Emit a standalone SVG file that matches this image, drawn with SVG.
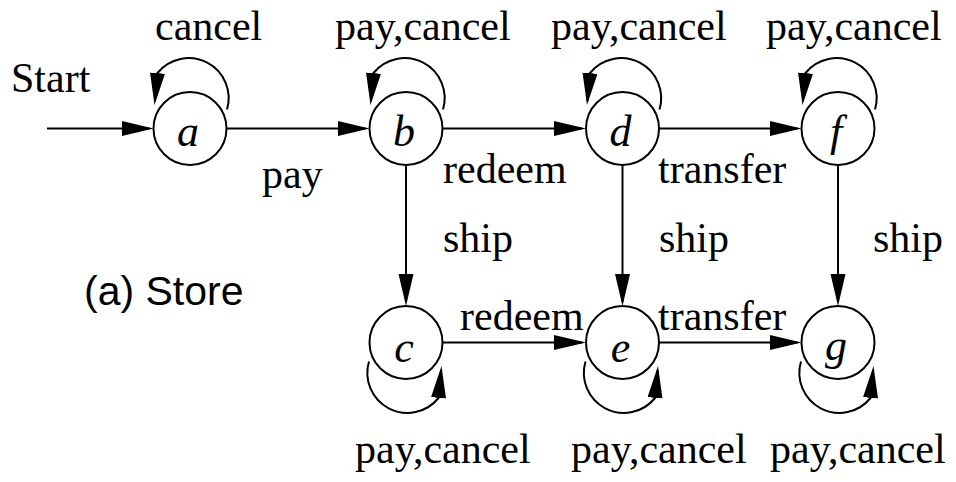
<svg xmlns="http://www.w3.org/2000/svg" width="956" height="482" viewBox="0 0 956 482">
<style>
.n{fill:#fff;stroke:#000;stroke-width:2}
.nl{font-family:"Liberation Serif",serif;font-style:italic;font-size:44px;text-anchor:middle;fill:#000}
.e{fill:none;stroke:#000;stroke-width:2;marker-end:url(#ah)}
.t{font-family:"Liberation Serif",serif;font-size:42px;fill:#000}
.s{font-family:"Liberation Sans",sans-serif;font-size:41px;fill:#000}
</style>
<defs>
<marker id="ah" markerUnits="userSpaceOnUse" viewBox="0 0 34 16" markerWidth="34" markerHeight="16" refX="28" refY="7.5" orient="auto">
<path d="M0,0 L32,7.5 L0,15 z" fill="#000"/>
</marker>
</defs>
<rect width="956" height="482" fill="#fff"/>
<g id="connectors">
<path class="e" d="M47,128.5 H149.5"/>
<path class="e" d="M226.5,128.5 H365.5"/>
<path class="e" d="M442.5,128.5 H582"/>
<path class="e" d="M659,128.5 H797.5"/>
<path class="e" d="M442.5,342.5 H582"/>
<path class="e" d="M659,342.5 H797.5"/>
<path class="e" d="M406,165 V302"/>
<path class="e" d="M622.5,165 V302"/>
<path class="e" d="M838,165 V302"/>
<path class="e" d="M227,109.5 A40,40 0 0 0 157.5,73 L154.9,101"/>
<path class="e" d="M443,109.5 A40,40 0 0 0 373.5,73 L370.9,101"/>
<path class="e" d="M659.5,109.5 A40,40 0 0 0 590,73 L587.4,101"/>
<path class="e" d="M875,109.5 A40,40 0 0 0 805.5,73 L802.9,101"/>
<path class="e" d="M369,361.5 A40,40 0 0 0 438.5,398 L441.1,370"/>
<path class="e" d="M585.5,361.5 A40,40 0 0 0 655,398 L657.6,370"/>
<path class="e" d="M801,361.5 A40,40 0 0 0 870.5,398 L873.1,370"/>
</g>
<g id="labels">
<text class="t" x="155" y="40">cancel</text>
<text class="t" x="335" y="40">pay,cancel</text>
<text class="t" x="551" y="40">pay,cancel</text>
<text class="t" x="766" y="40">pay,cancel</text>
<text class="t" x="11" y="92">Start</text>
<text class="t" x="262" y="188">pay</text>
<text class="t" x="443" y="183">redeem</text>
<text class="t" x="658" y="183">transfer</text>
<text class="t" x="443" y="252">ship</text>
<text class="t" x="659" y="252">ship</text>
<text class="t" x="873" y="252">ship</text>
<text class="s" x="84" y="305">(a) Store</text>
<text class="t" x="460" y="330">redeem</text>
<text class="t" x="658" y="330">transfer</text>
<text class="t" x="355" y="463">pay,cancel</text>
<text class="t" x="571" y="463">pay,cancel</text>
<text class="t" x="770" y="463">pay,cancel</text>
</g>
<g id="node-a"><circle class="n" cx="190" cy="128.5" r="36.5"/><text class="nl" x="188" y="146">a</text></g>
<g id="node-b"><circle class="n" cx="406" cy="128.5" r="36.5"/><text class="nl" x="404" y="146">b</text></g>
<g id="node-d"><circle class="n" cx="622.5" cy="128.5" r="36.5"/><text class="nl" x="620.5" y="146">d</text></g>
<g id="node-f"><circle class="n" cx="838" cy="128.5" r="36.5"/><text class="nl" x="836" y="146">f</text></g>
<g id="node-c"><circle class="n" cx="406" cy="342.5" r="36.5"/><text class="nl" x="404" y="362">c</text></g>
<g id="node-e"><circle class="n" cx="622.5" cy="342.5" r="36.5"/><text class="nl" x="620.5" y="362">e</text></g>
<g id="node-g"><circle class="n" cx="838" cy="342.5" r="36.5"/><text class="nl" x="836" y="360">g</text></g>
</svg>
